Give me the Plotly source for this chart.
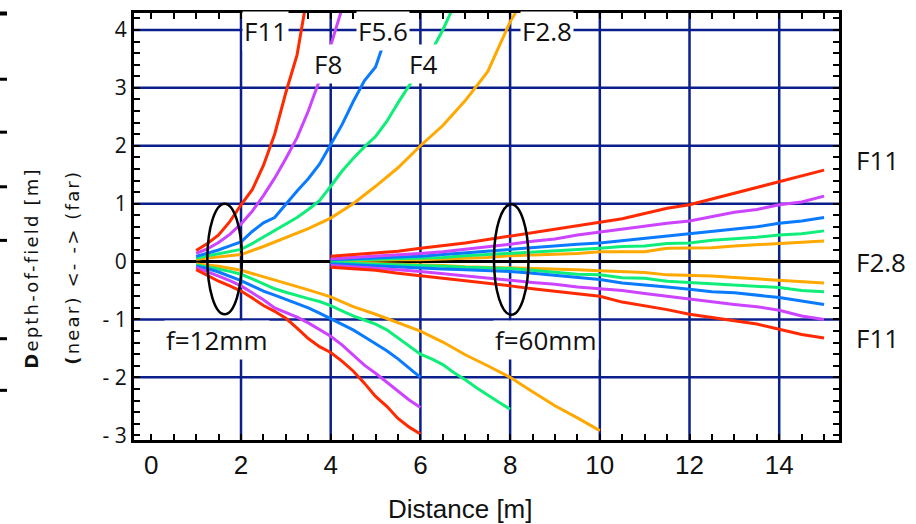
import plotly.graph_objects as go

# ---------------- data ----------------
apertures = ["F2.8", "F4", "F5.6", "F8", "F11"]
colors = {"F2.8": "#FFA800", "F4": "#10EE7A", "F5.6": "#0A7AFF", "F8": "#CC44FF", "F11": "#FF2A00"}

# f = 12 mm
x12q = [1.0, 1.25, 1.5, 1.75, 2.0, 2.25, 2.5, 2.75, 3.0, 3.25, 3.5, 3.75, 4.0, 4.25, 4.5,
        4.75, 5.0, 5.25, 5.5, 5.75, 6.0, 6.25, 6.5, 6.75, 7.0, 7.25, 7.5, 7.75, 8.0]
x12h = [1.0, 1.5, 2.0, 2.5, 3.0, 3.5, 4.0, 4.5, 5.0, 5.5, 6.0, 6.5, 7.0, 7.5, 8.0, 8.5,
        9.0, 9.5, 10.0]

far12_f11 = [0.19, 0.31, 0.46, 0.69, 0.98, 1.24, 1.66, 2.2, 2.92, 3.57, 4.7]
far12_f8 = [0.14, 0.22, 0.33, 0.47, 0.65, 0.87, 1.14, 1.44, 1.78, 2.14, 2.6, 3.13, 3.73, 4.35, 5.0]
far12_f56 = [0.09, 0.14, 0.2, 0.27, 0.34, 0.52, 0.67, 0.76, 1.0, 1.22, 1.43, 1.68, 2.02, 2.36,
             2.76, 3.12, 3.36, 3.95, 4.5]
far12_f4 = [0.06, 0.1, 0.14, 0.18, 0.21, 0.31, 0.42, 0.53, 0.64, 0.76, 0.9, 1.05, 1.3, 1.56,
            1.78, 1.98, 2.16, 2.42, 2.74, 3.04, 3.34, 3.64, 4.0, 4.42, 4.85]
far12_f28 = [0.04, 0.08, 0.12, 0.26, 0.41, 0.57, 0.75, 1.0, 1.3, 1.62, 2.0, 2.35, 2.78, 3.28,
             4.14, 4.8]

near12_f11 = [-0.14, -0.24, -0.34, -0.42, -0.51, -0.63, -0.76, -0.86, -0.98, -1.15, -1.33,
              -1.47, -1.57, -1.72, -1.89, -2.1, -2.33, -2.5, -2.71, -2.86, -2.98]
near12_f8 = [-0.1, -0.17, -0.25, -0.33, -0.42, -0.54, -0.66, -0.8, -0.88, -0.96, -1.06, -1.17,
             -1.29, -1.44, -1.62, -1.79, -1.93, -2.08, -2.23, -2.39, -2.52]
near12_f56 = [-0.08, -0.12, -0.18, -0.25, -0.33, -0.42, -0.51, -0.58, -0.65, -0.72, -0.8,
              -0.89, -0.99, -1.08, -1.18, -1.3, -1.42, -1.54, -1.68, -1.84, -2.0]
near12_f4 = [-0.06, -0.09, -0.13, -0.17, -0.22, -0.3, -0.38, -0.47, -0.53, -0.59, -0.64,
             -0.69, -0.76, -0.85, -0.94, -1.01, -1.08, -1.18, -1.32, -1.45, -1.6, -1.68,
             -1.78, -1.92, -2.04, -2.18, -2.31, -2.43, -2.55]
near12_f28 = [-0.04, -0.08, -0.15, -0.26, -0.37, -0.49, -0.61, -0.78, -0.91, -1.05, -1.2,
              -1.39, -1.61, -1.8, -2.0, -2.25, -2.49, -2.7, -2.92]

# f = 60 mm
x60 = [4.0, 4.5, 5.0, 5.5, 6.0, 6.5, 7.0, 7.5, 8.0, 8.5, 9.0, 9.5, 10.0, 10.5, 11.0, 11.5,
       12.0, 12.5, 13.0, 13.5, 14.0, 14.5, 15.0]
far60_f11 = [0.09, 0.12, 0.15, 0.18, 0.23, 0.27, 0.32, 0.38, 0.44, 0.49, 0.55, 0.61, 0.68,
             0.74, 0.83, 0.92, 0.98, 1.08, 1.18, 1.28, 1.38, 1.47, 1.58]
far60_f8 = [0.05, 0.07, 0.09, 0.11, 0.14, 0.17, 0.21, 0.25, 0.3, 0.35, 0.39, 0.46, 0.51,
            0.56, 0.62, 0.66, 0.7, 0.77, 0.85, 0.9, 0.98, 1.03, 1.13]
far60_f56 = [0.03, 0.04, 0.06, 0.08, 0.09, 0.12, 0.15, 0.18, 0.22, 0.24, 0.27, 0.3, 0.32,
             0.36, 0.4, 0.43, 0.47, 0.52, 0.56, 0.6, 0.66, 0.7, 0.76]
far60_f4 = [0.02, 0.03, 0.04, 0.05, 0.05, 0.07, 0.1, 0.12, 0.14, 0.16, 0.18, 0.21, 0.23,
            0.26, 0.27, 0.31, 0.32, 0.37, 0.39, 0.42, 0.46, 0.48, 0.53]
far60_f28 = [0.01, 0.02, 0.02, 0.03, 0.03, 0.04, 0.05, 0.07, 0.1, 0.11, 0.12, 0.14, 0.17,
             0.17, 0.17, 0.23, 0.23, 0.24, 0.27, 0.29, 0.315, 0.34, 0.355]
near60_f11 = [-0.1, -0.12, -0.15, -0.2, -0.25, -0.29, -0.33, -0.37, -0.42, -0.47, -0.51,
              -0.56, -0.6, -0.7, -0.76, -0.83, -0.91, -0.97, -1.03, -1.08, -1.17, -1.26, -1.32]
near60_f8 = [-0.07, -0.09, -0.11, -0.14, -0.17, -0.21, -0.25, -0.28, -0.32, -0.36, -0.39,
             -0.44, -0.47, -0.5, -0.55, -0.6, -0.64, -0.69, -0.74, -0.78, -0.84, -0.94, -1.0]
near60_f56 = [-0.04, -0.06, -0.08, -0.1, -0.11, -0.13, -0.14, -0.15, -0.17, -0.2, -0.24,
              -0.28, -0.31, -0.37, -0.4, -0.44, -0.48, -0.52, -0.54, -0.58, -0.62, -0.68, -0.74]
near60_f4 = [-0.02, -0.03, -0.05, -0.06, -0.07, -0.08, -0.1, -0.11, -0.12, -0.15, -0.19,
             -0.22, -0.23, -0.28, -0.29, -0.34, -0.36, -0.38, -0.41, -0.43, -0.45, -0.5, -0.52]
near60_f28 = [-0.01, -0.02, -0.03, -0.04, -0.06, -0.07, -0.09, -0.1, -0.1, -0.11, -0.13,
              -0.14, -0.16, -0.18, -0.19, -0.23, -0.24, -0.25, -0.275, -0.3, -0.33, -0.35, -0.37]

x_ticks = [0, 2, 4, 6, 8, 10, 12, 14]
y_ticks = [-3, -2, -1, 0, 1, 2, 3, 4]
y_ticktext = ["- 3", "- 2", "- 1", "0", "1", "2", "3", "4"]
x_grid = [2, 4, 6, 8, 10, 12, 14]
y_grid = [-2, -1, 1, 2, 3, 4]

series = {
    "F2.8": [(x12h, far12_f28), (x12h, near12_f28), (x60, far60_f28), (x60, near60_f28)],
    "F4": [(x12q, far12_f4), (x12q, near12_f4), (x60, far60_f4), (x60, near60_f4)],
    "F5.6": [(x12q, far12_f56), (x12q, near12_f56), (x60, far60_f56), (x60, near60_f56)],
    "F8": [(x12q, far12_f8), (x12q, near12_f8), (x60, far60_f8), (x60, near60_f8)],
    "F11": [(x12q, far12_f11), (x12q, near12_f11), (x60, far60_f11), (x60, near60_f11)],
}

# ---------------- figure ----------------
fig = go.Figure()
for ap in apertures:
    for xs, ys in series[ap]:
        fig.add_trace(go.Scatter(x=xs[:len(ys)], y=ys, mode="lines", name=ap,
                                 line=dict(color=colors[ap], width=3), showlegend=False,
                                 hoverinfo="skip"))

NAVY = "#0A1E8C"
shapes = []
for gx in x_grid:
    shapes.append(dict(type="line", xref="x", yref="paper", x0=gx, x1=gx, y0=0, y1=1,
                       line=dict(color=NAVY, width=2.5), layer="below"))
for gy in y_grid:
    shapes.append(dict(type="line", xref="paper", yref="y", x0=0, x1=1, y0=gy, y1=gy,
                       line=dict(color=NAVY, width=2.5), layer="below"))
# lens ellipses
shapes.append(dict(type="circle", xref="x", yref="y", x0=1.25, x1=2.02, y0=-0.91, y1=1.0,
                   line=dict(color="black", width=2.5)))
shapes.append(dict(type="circle", xref="x", yref="y", x0=7.64, x1=8.41, y0=-0.92, y1=0.99,
                   line=dict(color="black", width=2.5)))
# stray tick dashes at the far left edge
for py, w in [(10.5, 4), (76.7, 3), (130, 3), (185, 3), (239, 3), (338, 3), (390, 3)]:
    yp = (440 - py) / 430
    shapes.append(dict(type="line", xref="paper", yref="paper", x0=-0.1901, x1=-0.1801,
                       y0=yp, y1=yp, line=dict(color="black", width=w)))

ann_font = dict(family="Open Sans", size=26, color="#111")
annotations = []
for txt, ax_, ay_ in [("F11", 2.535, 3.99), ("F8", 3.93, 3.41), ("F5.6", 5.17, 3.99),
                      ("F4", 6.05, 3.41), ("F2.8", 8.83, 3.99),
                      ("f=12mm", 1.46, -1.35), ("f=60mm", 8.8, -1.35)]:
    annotations.append(dict(text=txt, x=ax_, y=ay_, xref="x", yref="y", showarrow=False,
                            font=ann_font, bgcolor="white", borderpad=1,
                            xanchor="center", yanchor="middle"))
for txt, ay_ in [("F11", 1.76), ("F2.8", -0.01), ("F11", -1.32)]:
    annotations.append(dict(text=txt, x=1.0213, y=ay_, xref="paper", yref="y",
                            showarrow=False, font=ann_font, xanchor="left",
                            yanchor="middle"))
# axis titles
annotations.append(dict(text="Distance [m]", x=0.463, y=-0.1605, xref="paper", yref="paper",
                        showarrow=False, xanchor="center", yanchor="middle",
                        font=dict(family="Liberation Sans", size=26, color="#111")))
annotations.append(dict(text="<span style='letter-spacing:2.2px'><b>D</b>epth-of-field [m]</span>",
                        x=-0.1447, y=0.4035, xref="paper", yref="paper", textangle=-90,
                        showarrow=False, xanchor="center", yanchor="middle",
                        font=dict(family="DejaVu Sans", size=18, color="#111")))
annotations.append(dict(text="<span style='letter-spacing:2.2px'><b>(</b>near) &lt;- -&gt; (far)</span>",
                        x=-0.0865, y=0.4035, xref="paper", yref="paper", textangle=-90,
                        showarrow=False, xanchor="center", yanchor="middle",
                        font=dict(family="DejaVu Sans", size=18, color="#111")))

fig.update_layout(
    width=916, height=524,
    margin=dict(l=134, r=77, t=10, b=84),
    paper_bgcolor="white", plot_bgcolor="white",
    shapes=shapes, annotations=annotations,
    xaxis=dict(range=[-0.386, 15.333], tickmode="array", tickvals=x_ticks,
               ticktext=[str(v) for v in x_ticks],
               ticks="inside", ticklen=6, tickwidth=2, tickcolor="black",
               showline=True, linecolor="black", linewidth=3, mirror="allticks",
               showgrid=False, zeroline=False,
               tickfont=dict(family="Liberation Sans", size=26, color="#111"),
               minor=dict(dtick=0.5, tick0=0, ticks="inside", ticklen=6, tickwidth=2,
                          tickcolor="black", showgrid=False)),
    yaxis=dict(range=[-3.082, 4.293], tickmode="array", tickvals=y_ticks,
               ticktext=y_ticktext,
               ticks="inside", ticklen=6, tickwidth=2, tickcolor="black",
               showline=True, linecolor="black", linewidth=3, mirror="allticks",
               showgrid=False, zeroline=True, zerolinecolor="black", zerolinewidth=3,
               tickfont=dict(family="Open Sans", size=21, color="#111"),
               minor=dict(dtick=0.2, tick0=0, ticks="inside", ticklen=6, tickwidth=2,
                          tickcolor="black", showgrid=False)),
)

fig.write_html("out.html")
